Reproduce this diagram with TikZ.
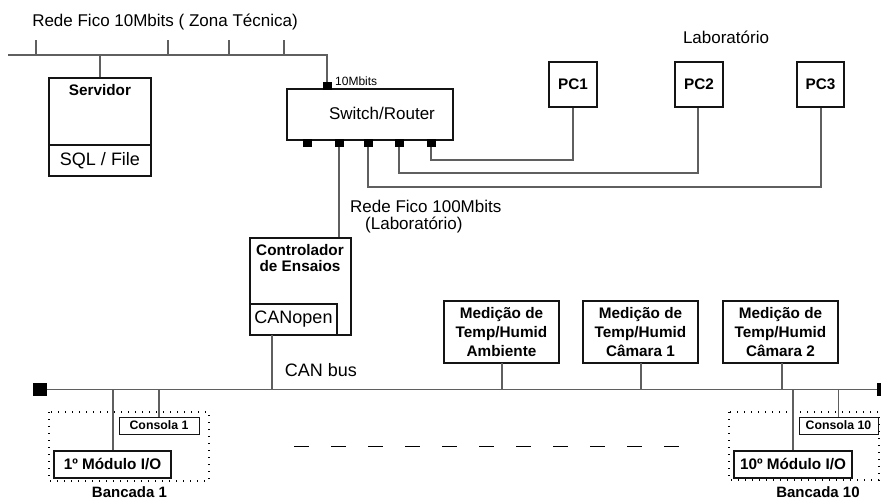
\documentclass[tikz,border=0pt]{standalone}
\usepackage{fontspec}
\setmainfont{Liberation Sans}
\definecolor{wire}{RGB}{95,95,95}
\definecolor{edge}{RGB}{20,20,20}
\tikzset{
  box/.style={draw=edge, line width=1.1pt, inner sep=0pt, fill=white},
  port/.style={fill=black, draw=none, minimum width=9pt, minimum height=8pt, inner sep=0pt},
  wireline/.style={draw=wire, line width=1.1pt},
  lbl/.style={inner sep=0pt, font=\fontsize{17}{20}\selectfont},
  blbl/.style={inner sep=0pt, font=\fontsize{15.3}{19}\selectfont\bfseries, align=center},
  slbl/.style={inner sep=0pt, font=\fontsize{12.3}{14}\selectfont\bfseries},
  bench/.style={draw=black, line width=1.1pt, dash pattern=on 1pt off 6pt}
}
\begin{document}
\begin{tikzpicture}[x=1pt,y=-1pt]
\useasboundingbox (0,0) rectangle (881,499);

% ---- technical-zone 10 Mbit network ----
\node[lbl] (zonelbl) at (165,22) {Rede Fico 10Mbits ( Zona Técnica)};
\coordinate (busL) at (8,55);
\coordinate (busR) at (327,55);
\foreach \x/\n in {36/t1,168/t2,229/t3,284/t4}{
  \coordinate (\n) at (\x,40);
  \draw[wireline] (\n) -- (\n |- busL);
}

% ---- server ----
\node[box, minimum width=102pt, minimum height=98pt] (srv) at (100,127) {};
\node[box, minimum width=102pt, minimum height=31pt, font=\fontsize{18}{20}\selectfont] (sql) at (100,160.5) {SQL / File};
\node[blbl] (srvlbl) at (100,90) {Servidor};
\draw[wireline] (srv.north) -- (srv.north |- busL);

% ---- switch / router ----
\node[box, minimum width=166pt, minimum height=51pt] (sw) at (370,114.5) {};
\node[lbl] (swlbl) at (382,113) {Switch/Router};
\node[port] (pt) at (327,86) {};
\node[inner sep=0pt, anchor=west, font=\fontsize{12}{14}\selectfont] (tenlbl) at (335,81) {10Mbits};
\draw[wireline] (busL) -- (busR) -- (pt.north);
\foreach \x/\n in {307/p1,339/p2,368/p3,399/p4,431/p5}{
  \node[port] (\n) at (\x,142.5) {};
}

% ---- laboratory PCs ----
\node[lbl] (lablbl) at (726,37) {Laboratório};
\node[box, minimum width=48pt, minimum height=45pt, font=\fontsize{15.3}{18}\selectfont\bfseries] (pc1) at (573,84.5) {PC1};
\node[box, minimum width=48pt, minimum height=45pt, font=\fontsize{15.3}{18}\selectfont\bfseries] (pc2) at (699,84.5) {PC2};
\node[box, minimum width=47pt, minimum height=45pt, font=\fontsize{15.3}{18}\selectfont\bfseries] (pc3) at (820.5,84.5) {PC3};
\coordinate (k1) at (573,160);
\coordinate (k2) at (698,173);
\coordinate (k3) at (821,187);
\draw[wireline] (p5.south) |- (k1) -- (k1 |- pc1.south);
\draw[wireline] (p4.south) |- (k2) -- (k2 |- pc2.south);
\draw[wireline] (p3.south) |- (k3) -- (k3 |- pc3.south);

% ---- test controller ----
\node[lbl, anchor=west] (lan1) at (350,206) {Rede Fico 100Mbits};
\node[lbl, anchor=west] (lan2) at (365,225) {(Laboratório)};
\node[box, minimum width=101pt, minimum height=97pt] (ctl) at (300.5,286.5) {};
\node[blbl, font=\fontsize{15.3}{16.5}\selectfont\bfseries] (ctllbl) at (300,258) {Controlador\\de Ensaios};
\node[box, minimum width=87pt, minimum height=31pt, font=\fontsize{18}{20}\selectfont] (canopen) at (293.5,319.5) {CANopen};
\draw[wireline] (p2.south) -- (p2.south |- ctl.north);

% ---- CAN bus ----
\node[fill=black, inner sep=0pt, minimum width=14pt, minimum height=13pt] (endL) at (40,389.5) {};
\node[fill=black, inner sep=0pt, minimum width=14pt, minimum height=13pt] (endR) at (884,389.5) {};
\draw[wireline] (endL.east) -- (endR.west);
\node[lbl, font=\fontsize{18}{20}\selectfont] (canlbl) at (321,370) {CAN bus};
\coordinate (cdrop) at (272,335);
\draw[wireline] (cdrop) -- (cdrop |- endL);

% ---- temperature / humidity sensors ----
\node[box, blbl, minimum width=115pt, minimum height=62pt] (m1) at (501.5,332) {Medição de\\Temp/Humid\\Ambiente};
\node[box, blbl, minimum width=115pt, minimum height=62pt] (m2) at (640.5,332) {Medição de\\Temp/Humid\\Câmara 1};
\node[box, blbl, minimum width=115pt, minimum height=62pt] (m3) at (780.5,332) {Medição de\\Temp/Humid\\Câmara 2};
\foreach \m/\x in {m1/502,m2/641,m3/782}{
  \coordinate (\m d) at (\x,363);
  \draw[wireline] (\m d) -- (\m d |- endL);
}

% ---- test benches ----
\draw[bench] (49,412) rectangle (209,481);
\draw[bench] (729,412) rectangle (879,480);
\node[box, slbl, line width=1pt, minimum width=80pt, minimum height=17pt] (con1) at (159,425.5) {Consola 1};
\node[box, slbl, line width=1pt, minimum width=79pt, minimum height=17pt] (con10) at (838.5,425.5) {Consola 10};
\node[box, blbl, minimum width=117pt, minimum height=27pt] (mod1) at (112.5,464.5) {1º Módulo I/O};
\node[box, blbl, minimum width=118pt, minimum height=27pt] (mod10) at (793,464.5) {10º Módulo I/O};
\coordinate (tap1) at (113,389.5);
\coordinate (tap10) at (793,389.5);
\draw[wireline] (tap1) -- (tap1 |- mod1.north);
\draw[wireline] (con1.north) -- (con1.north |- endL);
\draw[wireline] (tap10) -- (tap10 |- mod10.north);
\draw[wireline] (con10.north) -- (con10.north |- endL);
\node[inner sep=0pt, font=\fontsize{15}{17}\selectfont\bfseries] (b1) at (129.5,492) {Bancada 1};
\node[inner sep=0pt, font=\fontsize{15}{17}\selectfont\bfseries] (b10) at (818,492) {Bancada 10};

% ---- further benches (omitted) ----
\coordinate (dA) at (294,446);
\coordinate (dB) at (682,446);
\draw[line width=1pt, dash pattern=on 15pt off 22pt] (dA) -- (dB);
\end{tikzpicture}
\end{document}
